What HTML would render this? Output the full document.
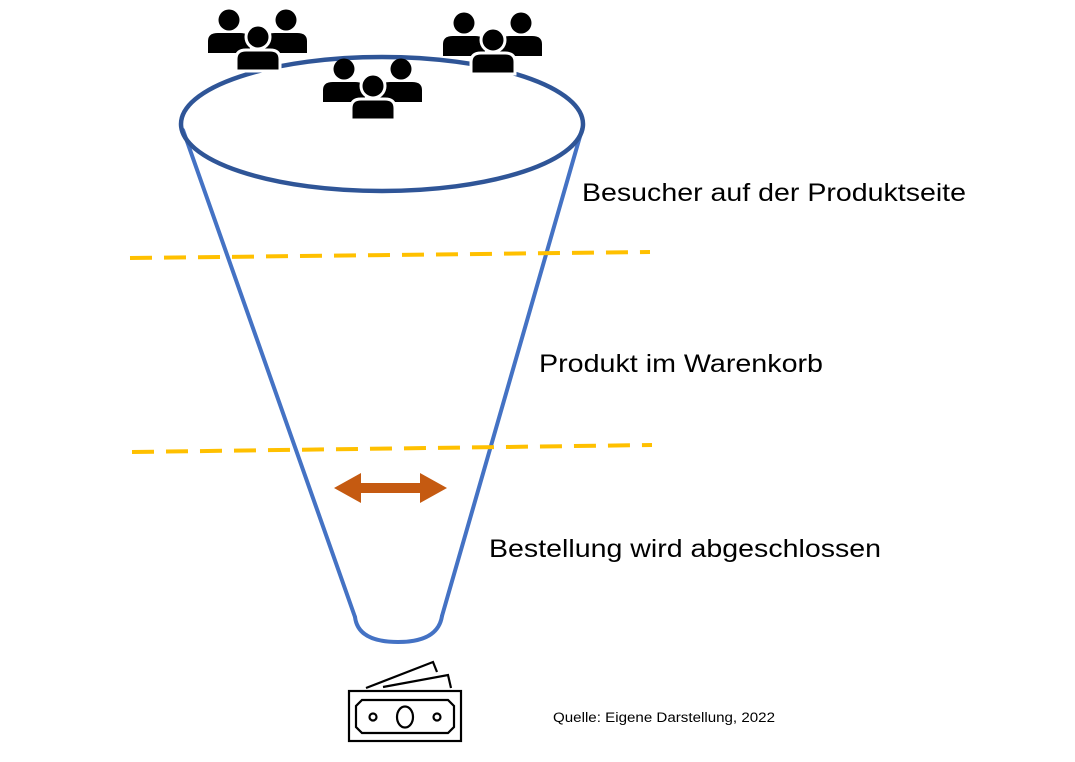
<!DOCTYPE html>
<html><head><meta charset="utf-8"><style>html,body{margin:0;padding:0;background:#fff}svg{display:block}</style></head>
<body>
<svg width="1075" height="762" viewBox="0 0 1075 762" xmlns="http://www.w3.org/2000/svg">
<defs>
<g id="grp">
  <circle cx="-29" cy="-17" r="10.5" fill="#000"/>
  <path d="M-50 16 V4 Q-50 -4 -40 -4 H-18 Q-8 -4 -8 4 V16 Z" fill="#000"/>
  <circle cx="28" cy="-17" r="10.5" fill="#000"/>
  <path d="M7 16 V4 Q7 -4 17 -4 H39 Q49 -4 49 4 V16 Z" fill="#000"/>
  <circle cx="0" cy="0" r="12" fill="#000" stroke="#fff" stroke-width="3"/>
  <path d="M-22 34 V22 Q-22 13 -12 13 H12 Q22 13 22 22 V34 Z" fill="#000" stroke="#fff" stroke-width="3"/>
</g>
</defs>
<!-- cone -->
<g fill="none" stroke="#4472C4" stroke-width="4" stroke-linecap="round">
  <line x1="183" y1="130" x2="355" y2="617"/>
  <line x1="583" y1="126" x2="442" y2="616"/>
  <path d="M355 617 Q358 642 398 642 Q438 642 442 616"/>
</g>
<ellipse cx="382" cy="124" rx="201" ry="67" fill="none" stroke="#2F5597" stroke-width="4.5"/>
<!-- dashes -->
<g stroke="#FFC000" stroke-width="4" stroke-dasharray="22 12">
  <line x1="130" y1="258" x2="650" y2="252"/>
  <line x1="132" y1="452" x2="652" y2="445"/>
</g>
<!-- arrow -->
<path d="M334 488 L361 473 V483 H420 V473 L447 488 L420 503 V493 H361 V503 Z" fill="#C55A11"/>
<!-- people -->
<use href="#grp" x="258" y="37"/>
<use href="#grp" x="493" y="40"/>
<use href="#grp" x="373" y="86"/>
<!-- money -->
<g fill="none" stroke="#000" stroke-width="2.2">
  <polyline points="366,688 433,662 437,672"/>
  <polyline points="383,687 448,675 451,688"/>
  <rect x="349" y="691" width="112" height="50"/>
  <polygon points="362,700 448,700 454,706 454,727 448,733 362,733 356,727 356,706"/>
  <circle cx="373" cy="717" r="3.5"/>
  <circle cx="437" cy="717" r="3.5"/>
  <ellipse cx="405" cy="717" rx="8" ry="10.5"/>
</g>
<!-- text -->
<g font-family="Liberation Sans, sans-serif" font-size="25" fill="#000">
  <text x="582" y="201" textLength="384" lengthAdjust="spacingAndGlyphs">Besucher auf der Produktseite</text>
  <text x="539" y="372" textLength="284" lengthAdjust="spacingAndGlyphs">Produkt im Warenkorb</text>
  <text x="489" y="557" textLength="392" lengthAdjust="spacingAndGlyphs">Bestellung wird abgeschlossen</text>
</g>
<text x="553" y="722" font-family="Liberation Sans, sans-serif" font-size="13.5" textLength="222" lengthAdjust="spacingAndGlyphs">Quelle: Eigene Darstellung, 2022</text>
</svg>
</body></html>
